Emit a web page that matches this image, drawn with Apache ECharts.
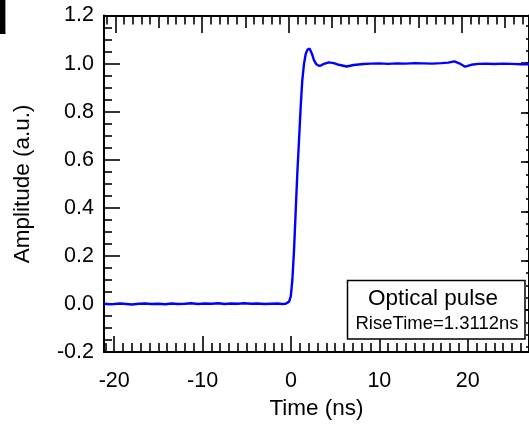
<!DOCTYPE html>
<html>
<head>
<meta charset="utf-8">
<script src="https://cdn.jsdelivr.net/npm/echarts@6/dist/echarts.min.js"></script>
<style>
html,body{margin:0;padding:0;background:#fff;}
#chart{width:529px;height:425px;}
</style>
</head>
<body>
<div id="chart"></div>
<script>
// ---- data ----
var timeNs = [
  -21.15, -20.5, -20, -19.3, -18.6, -18, -17.2, -16.5, -15.8, -15,
  -14.2, -13.5, -12.8, -12, -11.3, -10.5, -9.8, -9, -8.2, -7.5,
  -6.8, -6, -5.3, -4.5, -3.8, -3, -2.3, -1.5, -1, -0.6,
  -0.44, -0.21, -0.02, 0.16, 0.35, 0.54, 0.72, 0.91, 1.10, 1.28,
  1.48, 1.67, 1.87, 2.12, 2.38, 2.60, 2.88, 3.16, 3.39, 3.73,
  4.29, 4.85, 5.42, 6.3, 7.1, 8.2, 9, 10, 11, 12,
  13, 14, 15, 16, 17, 17.8, 18.5, 19.1, 19.7, 20.4,
  21.2, 22, 23, 24, 25, 26, 26.93
];
var amplitude = [
  0.001, -0.001, 0.000, 0.002, 0.000, -0.002, 0.001, 0.002, 0.000, 0.001,
  -0.001, 0.002, 0.000, 0.001, 0.003, 0.000, 0.002, 0.001, 0.003, 0.000,
  0.002, 0.001, 0.003, 0.001, 0.002, 0.000, 0.001, 0.002, 0.000, 0.001,
  0.003, 0.010, 0.032, 0.100, 0.225, 0.390, 0.544, 0.680, 0.820, 0.930,
  1.000, 1.040, 1.058, 1.062, 1.040, 1.014, 0.997, 0.991, 0.992, 0.999,
  1.005, 1.002, 0.995, 0.988, 0.994, 0.998, 1.000, 1.001, 0.999, 1.001,
  1.000, 1.002, 1.001, 1.000, 1.002, 1.004, 1.009, 1.000, 0.987, 0.995,
  0.999, 1.000, 0.998, 1.000, 0.999, 0.997, 0.997
];
var xTickLabels = [-20, -10, 0, 10, 20];
var xMinorTicks = [-21,-19,-18,-17,-16,-15,-14,-13,-12,-11,-9,-8,-7,-6,-5,-4,-3,-2,-1,1,2,3,4,5,6,7,8,9,11,12,13,14,15,16,17,18,19,21,22,23,24,25,26];
var topMajorTicks = [-20, -10, 0, 10, 20];
var topMidTicks = [-15, -5, 5, 15, 25];
var topMinorTicks = [-21,-19,-18,-17,-16,-14,-13,-12,-11,-9,-8,-7,-6,-4,-3,-2,-1,1,2,3,4,6,7,8,9,11,12,13,14,16,17,18,19,21,22,23,24,26,27];
var yTickLabels = [-0.2, 0.0, 0.2, 0.4, 0.6, 0.8, 1.0, 1.2];
var rightMajorTicks = [0, 0.2, 0.4, 0.6, 0.8, 1.0];
var legendTitle = 'Optical pulse';
var legendSubtitle = 'RiseTime=1.3112ns';
var panelLetter = 'd';

var pulseData = timeNs.map(function (t, i) { return [t, amplitude[i]]; });
var rightMinorTicks = [];
for (var k = -3; k <= 23; k++) { rightMinorTicks.push(Math.round(k * 5) / 100); }

var FONT = "'Liberation Sans', Arial, sans-serif";
var XMIN = -21.15, XMAX = 26.93;
var TMIN = -21.32, TMAX = 27.76;

function tickAxis(pos, min, max, values, len, showLine) {
  return {
    type: 'value', position: pos, min: min, max: max,
    axisLine: { show: !!showLine, onZero: false, lineStyle: { color: '#000', width: 2 } },
    axisTick: { show: true, inside: true, length: len, customValues: values, lineStyle: { color: '#000', width: 1.6 } },
    axisLabel: { show: false },
    splitLine: { show: false }
  };
}

var chart = echarts.init(document.getElementById('chart'), null, { renderer: 'canvas' });
chart.setOption({
  animation: false,
  backgroundColor: '#fff',
  grid: { left: 104, top: 15.5, width: 427, height: 337, containLabel: false },
  xAxis: [
    {
      type: 'value', position: 'bottom', min: XMIN, max: XMAX,
      name: 'Time (ns)', nameLocation: 'middle', nameGap: 44,
      nameTextStyle: { fontFamily: FONT, fontSize: 22.5, color: '#000' },
      axisLine: { show: true, onZero: false, lineStyle: { color: '#000', width: 2 } },
      axisTick: { show: true, inside: true, length: 16, customValues: xTickLabels, lineStyle: { color: '#000', width: 1.6 } },
      axisLabel: { show: true, customValues: xTickLabels, margin: 18, fontFamily: FONT, fontSize: 21.5, color: '#000' },
      splitLine: { show: false }
    },
    tickAxis('bottom', XMIN, XMAX, xMinorTicks, 9, false),
    tickAxis('top', TMIN, TMAX, topMajorTicks, 17.5, true),
    tickAxis('top', TMIN, TMAX, topMidTicks, 12.5, false),
    tickAxis('top', TMIN, TMAX, topMinorTicks, 9, false)
  ],
  yAxis: [
    {
      type: 'value', position: 'left', min: -0.2, max: 1.2,
      name: 'Amplitude (a.u.)', nameLocation: 'middle', nameGap: 70, nameRotate: 90,
      nameTextStyle: { fontFamily: FONT, fontSize: 22.5, color: '#000' },
      axisLine: { show: true, onZero: false, lineStyle: { color: '#000', width: 2 } },
      axisTick: { show: true, inside: true, length: 16, customValues: yTickLabels, lineStyle: { color: '#000', width: 1.6 } },
      minorTick: { show: false },
      axisLabel: { show: true, customValues: yTickLabels, margin: 10, fontFamily: FONT, fontSize: 21.5, color: '#000',
        formatter: function (v) { return v.toFixed(1); } },
      splitLine: { show: false }
    },
    {
      type: 'value', position: 'left', min: -0.2, max: 1.2,
      axisLine: { show: false, onZero: false },
      axisTick: { show: true, inside: true, length: 8,
        customValues: [-0.15,-0.1,-0.05,0.05,0.1,0.15,0.25,0.3,0.35,0.45,0.5,0.55,0.65,0.7,0.75,0.85,0.9,0.95,1.05,1.1,1.15],
        lineStyle: { color: '#000', width: 1.6 } },
      axisLabel: { show: false }, splitLine: { show: false }
    },
    {
      type: 'value', position: 'right', min: -0.1709, max: 1.1935,
      axisLine: { show: true, onZero: false, lineStyle: { color: '#000', width: 2 } },
      axisTick: { show: true, inside: true, length: 8, customValues: rightMajorTicks, lineStyle: { color: '#000', width: 1.6 } },
      axisLabel: { show: false }, splitLine: { show: false }
    },
    {
      type: 'value', position: 'right', min: -0.1709, max: 1.1935,
      axisLine: { show: false, onZero: false },
      axisTick: { show: true, inside: true, length: 3, customValues: rightMinorTicks, lineStyle: { color: '#000', width: 1.6 } },
      axisLabel: { show: false }, splitLine: { show: false }
    }
  ],
  series: [{
    type: 'line', name: legendTitle, xAxisIndex: 0, yAxisIndex: 0,
    data: pulseData, showSymbol: false, smooth: false,
    lineStyle: { color: '#0000ff', width: 2.4 }
  }],
  graphic: [
    { type: 'rect', shape: { x: 347.5, y: 280.5, width: 177.5, height: 58.5 },
      style: { fill: '#fff', stroke: '#000', lineWidth: 1.5 }, z: 100 },
    { type: 'text', x: 433, y: 299, z: 101,
      style: { text: legendTitle, font: "22.5px " + FONT, fill: '#000', align: 'center', verticalAlign: 'middle' } },
    { type: 'text', x: 437, y: 324, z: 101,
      style: { text: legendSubtitle, font: "18.5px " + FONT, fill: '#000', align: 'center', verticalAlign: 'middle' } },
    { type: 'text', x: 8.5, y: 44, z: 101,
      style: { text: panelLetter, font: "bold 46px " + FONT, fill: '#000', align: 'right', verticalAlign: 'bottom' } }
  ]
});
</script>
</body>
</html>
